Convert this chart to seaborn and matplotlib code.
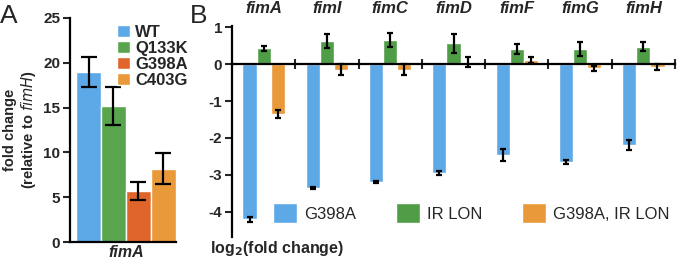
import numpy as np
import pandas as pd
import seaborn as sns
import matplotlib.pyplot as plt

# --- dados painel A ---
cepas = ["WT", "Q133K", "G398A", "C403G"]
fold_a = [19.0, 15.2, 5.7, 8.2]
erro_a = [1.7, 2.1, 1.05, 1.7]
cores_a = ["#5DA8E6", "#58A54E", "#E0652B", "#E9983A"]

# --- dados painel B ---
genes = ["fimA", "fimI", "fimC", "fimD", "fimF", "fimG", "fimH"]
condicoes = ["G398A", "IR LON", "G398A, IR LON"]
log2_g398a = [-4.2, -3.35, -3.19, -2.95, -2.46, -2.65, -2.19]
erro_g398a = [0.07, 0.02, 0.03, 0.05, 0.16, 0.05, 0.14]
log2_irlon = [0.43, 0.62, 0.65, 0.56, 0.40, 0.41, 0.47]
erro_irlon = [0.07, 0.18, 0.2, 0.25, 0.13, 0.18, 0.12]
log2_ambos = [-1.35, -0.15, -0.15, 0.05, 0.1, -0.12, -0.08]
erro_ambos = [0.1, 0.14, 0.14, 0.14, 0.08, 0.08, 0.08]
cores_b = ["#5DA8E6", "#4F9D46", "#E9983A"]

sns.set_style("white")
plt.rcParams["font.family"] = ["Liberation Sans", "DejaVu Sans"]

fig = plt.figure(figsize=(6.77, 2.63), dpi=100)

# ---------- painel A ----------
axA = fig.add_axes([70/677, 1-242/263, 106/677, 224/263])
dfA = pd.DataFrame({"gene": ["fimA"]*4, "cepa": cepas, "valor": fold_a})
sns.barplot(data=dfA, x="gene", y="valor", hue="cepa", palette=cores_a,
            width=1.0, saturation=1, ax=axA, legend=True)
for p, e in zip(axA.patches[:4], erro_a):
    axA.errorbar(p.get_x() + p.get_width()/2, p.get_height(), yerr=e,
                 fmt="none", ecolor="black", elinewidth=1.6, capsize=6, capthick=1.6)
axA.set_xlim(-0.56, 0.5)
axA.set_ylim(0, 25)
axA.set_yticks([0, 5, 10, 15, 20, 25])
axA.set_xticks([0])
axA.set_xticklabels(["fimA"], fontsize=11.5, fontweight="bold", fontstyle="italic")
axA.tick_params(axis="x", length=0, pad=2)
axA.tick_params(axis="y", length=5, width=1.5, direction="out", pad=2, left=True)
for t in axA.get_yticklabels():
    t.set_fontweight("bold")
    t.set_fontsize(11)
for s in ["top", "right"]:
    axA.spines[s].set_visible(False)
for s in ["left", "bottom"]:
    axA.spines[s].set_linewidth(1.6)
    axA.spines[s].set_color("black")
axA.set_xlabel("")
axA.set_ylabel("fold change\n(relative to $\\bf{\\it{fimH}}$)", fontsize=10.5,
               fontweight="bold", labelpad=4, linespacing=1.1)
axA.legend(loc="upper left", bbox_to_anchor=(0.38, 1.0), frameon=False,
           handlelength=0.8, handleheight=0.8, handletextpad=0.3,
           labelspacing=0.05, borderaxespad=0,
           prop={"weight": "bold", "size": 12})
fig.text(0.0, 0.985, "A", fontsize=19, va="top", ha="left")

# ---------- painel B ----------
axB = fig.add_axes([232/677, 1-237/263, 443/677, 211/263])
dfB = pd.DataFrame({
    "gene": genes*3,
    "condicao": [c for c in condicoes for _ in genes],
    "valor": log2_g398a + log2_irlon + log2_ambos,
})
erros = erro_g398a + erro_irlon + erro_ambos
sns.barplot(data=dfB, x="gene", y="valor", hue="condicao", palette=cores_b,
            width=0.67, saturation=1, ax=axB)
barras = [p for p in axB.patches if p.get_width() > 0][:len(erros)]
for p, e in zip(barras, erros):
    axB.errorbar(p.get_x() + p.get_width()/2, p.get_height(), yerr=e,
                 fmt="none", ecolor="black", elinewidth=1.6, capsize=2.3, capthick=1.6)
axB.set_xlim(-0.5, 6.5)
axB.set_ylim(-4.68, 1.03)
axB.set_yticks([-4, -3, -2, -1, 0, 1])
axB.set_yticklabels(["-4", "-3", "-2", "-1", "0", "1"])
for t in axB.get_yticklabels():
    t.set_fontweight("bold")
    t.set_fontsize(11)
axB.tick_params(axis="y", length=5, width=1.5, direction="out", pad=2, left=True)
axB.spines["bottom"].set_position(("data", 0))
for s in ["top", "right"]:
    axB.spines[s].set_visible(False)
for s in ["left", "bottom"]:
    axB.spines[s].set_linewidth(1.6)
    axB.spines[s].set_color("black")
axB.set_xticks(np.arange(0.5, 7, 1.0))
axB.set_xticklabels([])
axB.tick_params(axis="x", length=7, width=1.5, direction="inout", bottom=True)
axB.set_xlabel("")
axB.set_ylabel("")
for i, g in enumerate(genes):
    axB.annotate(g, xy=(i, 1.0), xycoords=("data", "axes fraction"),
                 xytext=(0, 7), textcoords="offset points", ha="center", va="bottom",
                 fontsize=12, fontweight="bold", fontstyle="italic")
axB.text(-22/443, -11/211, "log$_\\mathbf{2}$(fold change)", transform=axB.transAxes,
         fontsize=11.5, fontweight="bold", va="center", ha="left")
axB.legend(loc="center left", bbox_to_anchor=(41/443, (237-213)/211), ncol=3,
           frameon=False, fontsize=12, handlelength=1.45, handleheight=1.45,
           handletextpad=0.4, columnspacing=2.4, borderaxespad=0, borderpad=0)
fig.text(190/677, 0.985, "B", fontsize=19, va="top", ha="left")

fig.savefig("out.png", dpi=100)
